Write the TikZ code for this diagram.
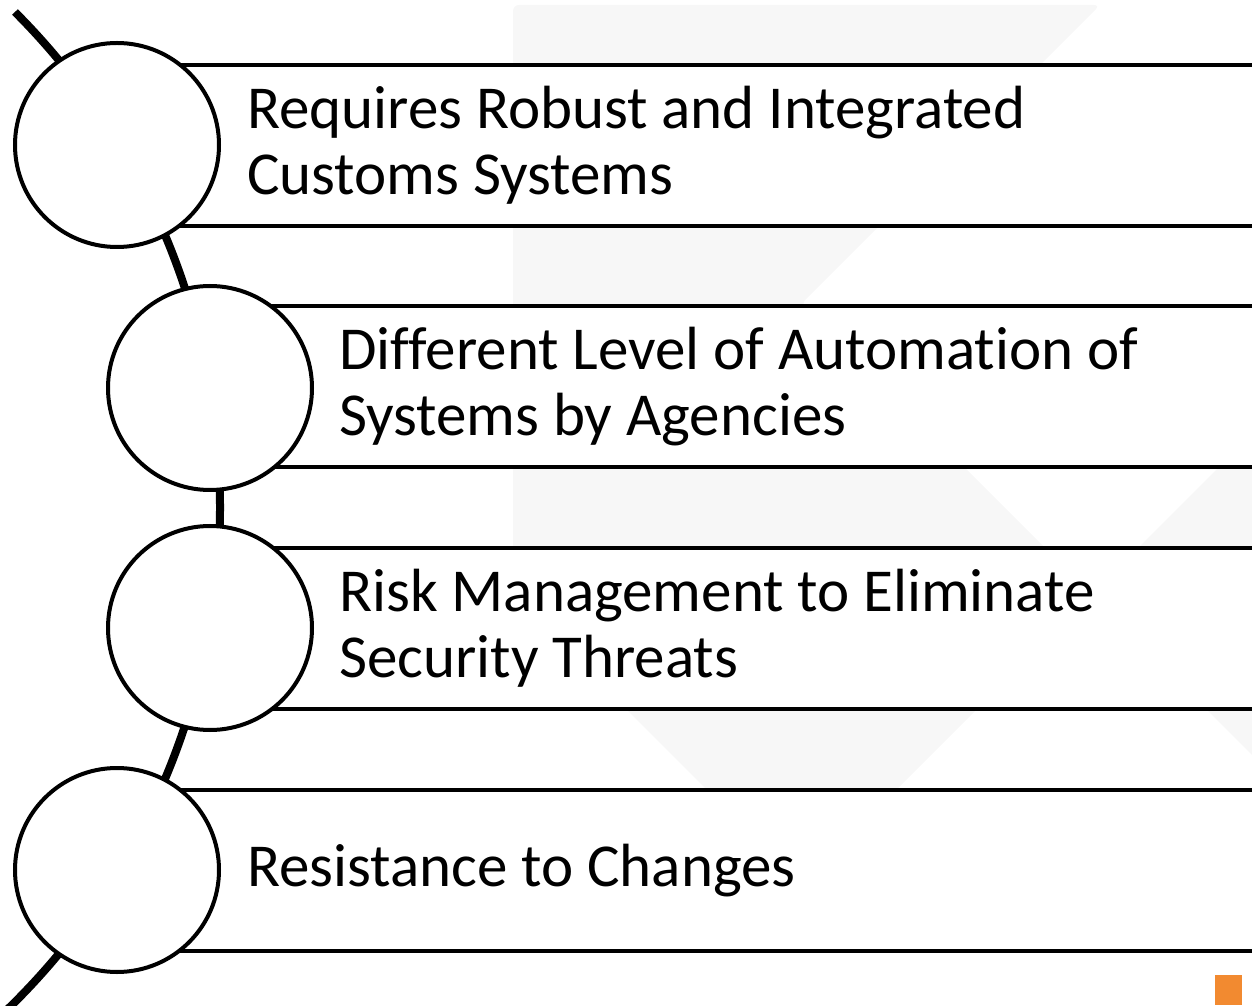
\documentclass[tikz,border=0pt]{standalone}
\usepackage{fontspec}
\setmainfont[Ligatures=NoCommon]{Carlito}
\definecolor{wm}{RGB}{247,247,247}
\definecolor{orangemark}{RGB}{242,138,48}
\begin{document}
\begin{tikzpicture}[x=1pt,y=1pt,
  bar/.style={draw, line width=4.5pt, fill=white, rectangle, minimum width=1200pt, minimum height=161pt, anchor=west, inner sep=0pt},
  ball/.style={circle, draw, line width=4pt, fill=white, minimum size=204pt, inner sep=0pt},
  txt/.style={anchor=west, align=left, font=\fontsize{61}{66}\selectfont, inner sep=0pt},
  spine/.style={line width=8pt}]
\useasboundingbox (0,0) rectangle (1252,1005);
\clip (0,0) rectangle (1252,1005);
% faint watermark
\fill[wm, rounded corners=6pt] (513,1000) -- (1100,1000) -- (801,701) -- (1091.5,410.5) -- (801.5,120.5) -- (513,409) -- cycle;
\fill[wm] (1091.5,410.5) -- (1252,571) -- (1252,250) -- cycle;
\fill[orangemark] (1215,0) rectangle (1242,30);
% spine
\draw[spine] (-480,498) ++(45:700) arc[start angle=45, end angle=-47, radius=700];
% bars
\node[bar] (b1) at (117,859.5) {};
\node[bar] (b2) at (210,618.5) {};
\node[bar] (b3) at (210,376.5) {};
\node[bar] (b4) at (117,134.5) {};
% circles
\node[ball] (c1) at (117,860) {};
\node[ball] (c2) at (210,617) {};
\node[ball] (c3) at (210,377) {};
\node[ball] (c4) at (117,135) {};
% texts
\node[txt] (t1) at (247,859.5) {Requires Robust and Integrated\\Customs Systems};
\node[txt] (t2) at (339,618.5) {Different Level of Automation of\\Systems by Agencies};
\node[txt] (t3) at (339,376.5) {Risk Management to Eliminate\\Security Threats};
\node[txt] (t4) at (247,134.5) {Resistance to Changes};
\end{tikzpicture}
\end{document}
